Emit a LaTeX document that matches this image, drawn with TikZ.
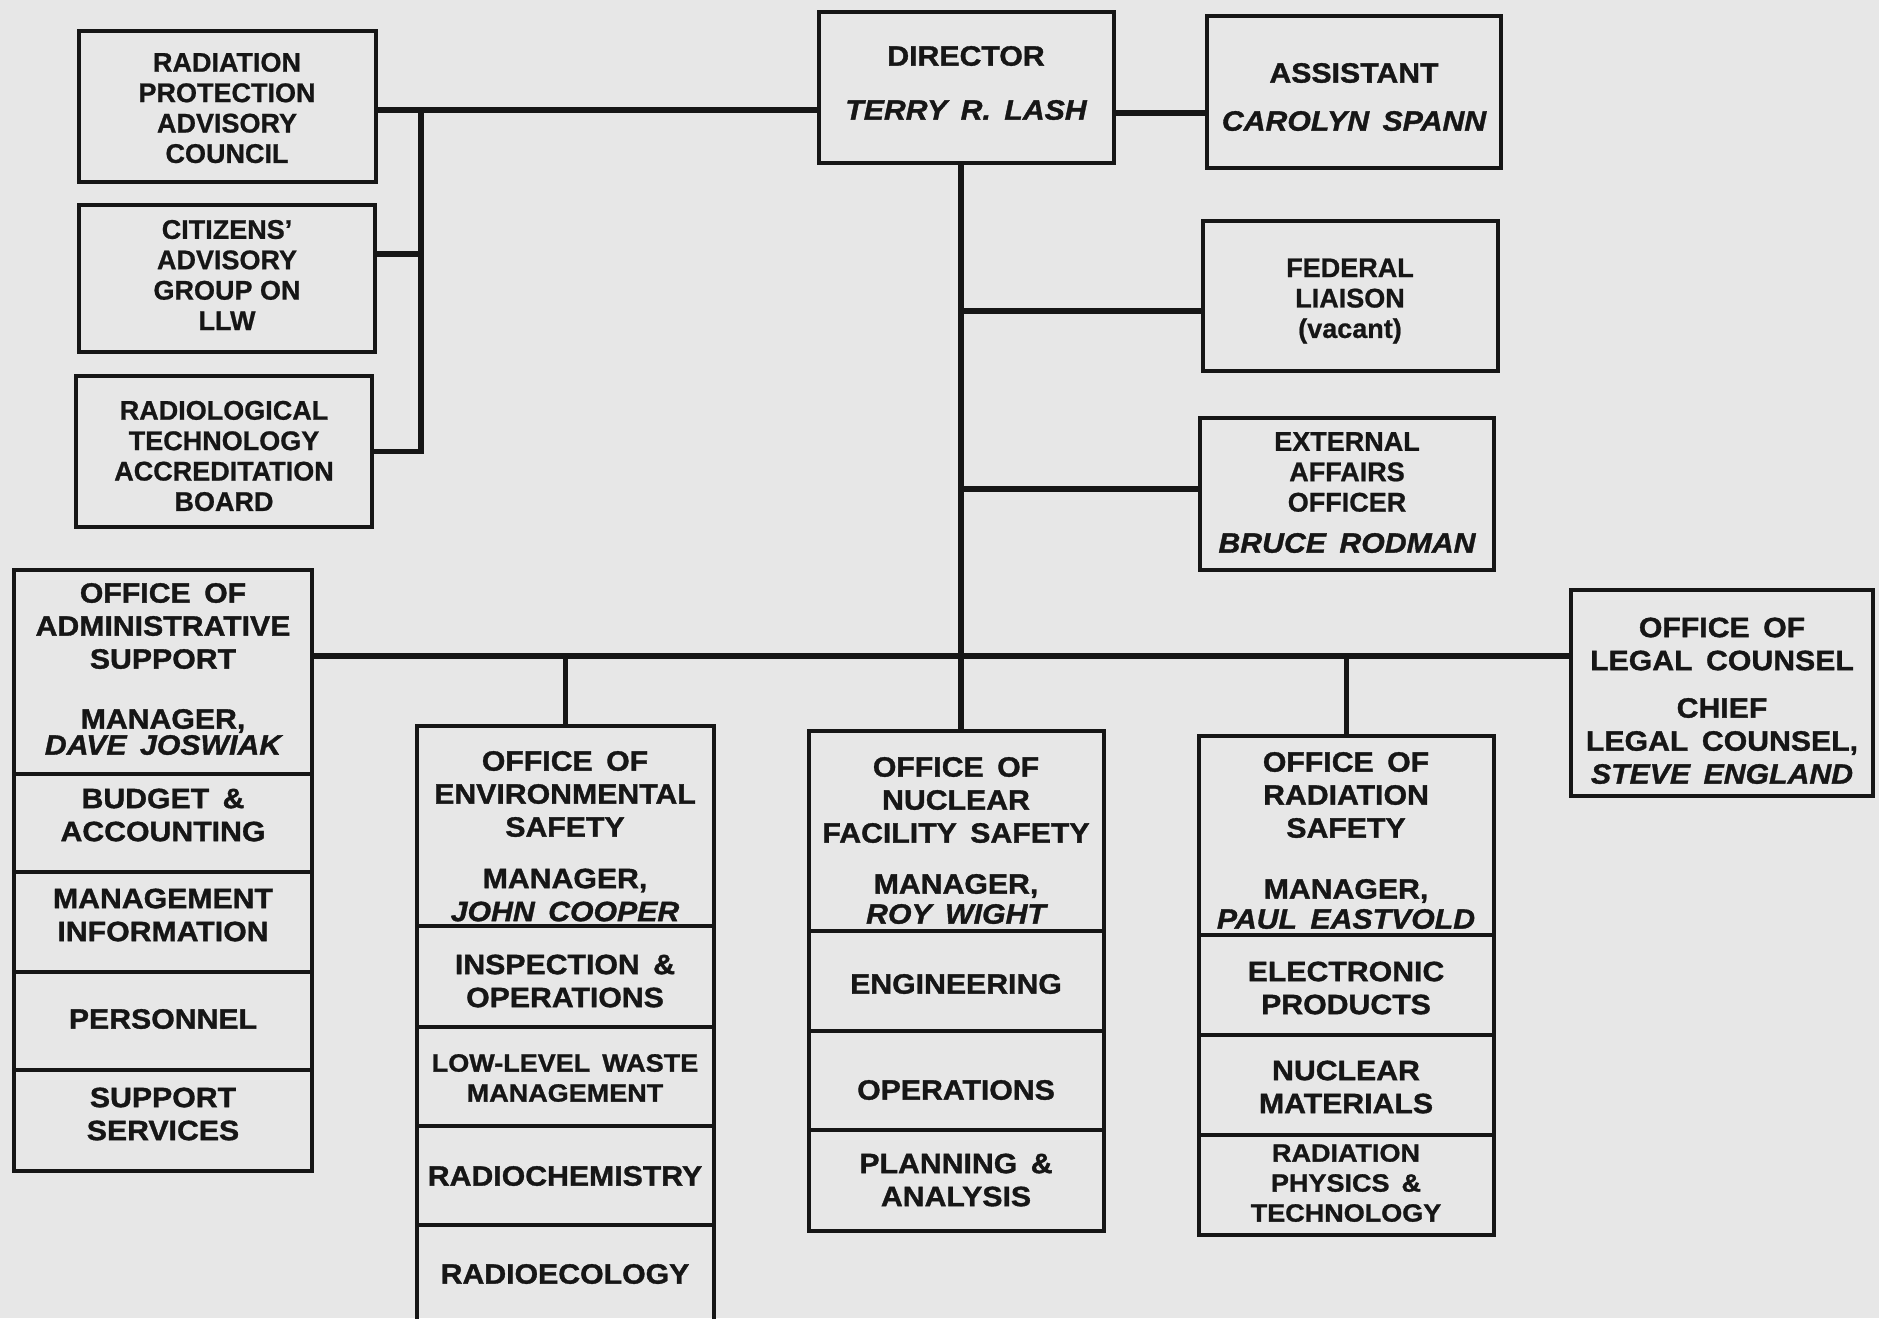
\documentclass[tikz,border=0pt]{standalone}
\usepackage{fontspec}
\setmainfont[FakeBold=0.8]{Liberation Sans}
\newfontfamily\wfont[FakeStretch=1.08,FakeBold=1.2,WordSpace=1.6]{Liberation Sans}
\usetikzlibrary{fit}
\definecolor{bg}{RGB}{231,231,231}
\definecolor{ink}{RGB}{22,22,22}
\begin{document}
\begin{tikzpicture}[x=0.5pt,y=-0.5pt,
  box/.style={draw=ink, line width=1.9pt, inner sep=0pt},
  wire/.style={draw=ink, line width=2.8pt},
  lt/.style={font=\wfont\bfseries\fontsize{14}{16.5}\selectfont, text=ink, align=center, inner sep=0pt},
  st/.style={font=\wfont\bfseries\fontsize{12.5}{15}\selectfont, text=ink, align=center, inner sep=0pt},
  ut/.style={font=\bfseries\fontsize{13.5}{15.2}\selectfont, text=ink, align=center, inner sep=0pt},
]
\fill[bg] (0,0) rectangle (1879,1318);
\useasboundingbox (0,0) rectangle (1879,1318);

% ---------- top boxes ----------
\node[box, fit={(79,31)(376,182)}] (rpac) {};
\node[ut] (rpacT) at (227,108) {RADIATION\\PROTECTION\\ADVISORY\\COUNCIL};
\node[box, fit={(79,205)(375,352)}] (cit) {};
\node[ut] (citT) at (227,275) {CITIZENS'\\ADVISORY\\GROUP ON\\LLW};
\node[box, fit={(76,376)(372,527)}] (rtab) {};
\node[ut] (rtabT) at (224,456) {RADIOLOGICAL\\TECHNOLOGY\\ACCREDITATION\\BOARD};

\node[box, fit={(819,12)(1114,163)}] (dir) {};
\node[lt] (dirT) at (966,56) {DIRECTOR};
\node[lt] (dirN) at (966,110) {\itshape TERRY R. LASH};

\node[box, fit={(1207,16)(1501,168)}] (asst) {};
\node[lt] (asstT) at (1354,73) {ASSISTANT};
\node[lt] (asstN) at (1354,121) {\itshape CAROLYN SPANN};

\node[box, fit={(1203,221)(1498,371)}] (fed) {};
\node[ut] (fedT) at (1350,301) {FEDERAL\\LIAISON\\(vacant)};

\node[box, fit={(1200,418)(1494,570)}] (ext) {};
\node[ut] (extT) at (1347,472) {EXTERNAL\\AFFAIRS\\OFFICER};
\node[lt] (extN) at (1347,543) {\itshape BRUCE RODMAN};

% ---------- administrative support ----------
\node[box, fit={(14,570)(312,774)}] (adm0) {};
\node[box, fit={(14,774)(312,872)}] (adm1) {};
\node[box, fit={(14,872)(312,972)}] (adm2) {};
\node[box, fit={(14,972)(312,1070)}] (adm3) {};
\node[box, fit={(14,1070)(312,1171)}] (adm4) {};
\node[lt] (adm0T) at (163,626) {OFFICE OF\\ADMINISTRATIVE\\SUPPORT};
\node[lt] (adm0M) at (163,732) {MANAGER,\\[-3.5pt]\itshape DAVE JOSWIAK};
\node[lt] (adm1T) at (163,815) {BUDGET \&\\ACCOUNTING};
\node[lt] (adm2T) at (163,915) {MANAGEMENT\\INFORMATION};
\node[lt] (adm3T) at (163,1019) {PERSONNEL};
\node[lt] (adm4T) at (163,1114) {SUPPORT\\SERVICES};

% ---------- environmental safety ----------
\node[box, fit={(417,726)(714,926)}] (env0) {};
\node[box, fit={(417,926)(714,1027)}] (env1) {};
\node[box, fit={(417,1027)(714,1126)}] (env2) {};
\node[box, fit={(417,1126)(714,1225)}] (env3) {};
\node[box, fit={(417,1225)(714,1330)}] (env4) {};
\node[lt] (env0T) at (565,794) {OFFICE OF\\ENVIRONMENTAL\\SAFETY};
\node[lt] (env0M) at (565,895) {MANAGER,\\\itshape JOHN COOPER};
\node[lt] (env1T) at (565,981) {INSPECTION \&\\OPERATIONS};
\node[st] (env2T) at (565,1078) {LOW-LEVEL WASTE\\MANAGEMENT};
\node[lt] (env3T) at (565,1176) {RADIOCHEMISTRY};
\node[lt] (env4T) at (565,1274) {RADIOECOLOGY};

% ---------- nuclear facility safety ----------
\node[box, fit={(809,731)(1104,931)}] (nuc0) {};
\node[box, fit={(809,931)(1104,1031)}] (nuc1) {};
\node[box, fit={(809,1031)(1104,1130)}] (nuc2) {};
\node[box, fit={(809,1130)(1104,1231)}] (nuc3) {};
\node[lt] (nuc0T) at (956,800) {OFFICE OF\\NUCLEAR\\FACILITY SAFETY};
\node[lt] (nuc0M) at (956,899) {MANAGER,\\[-1.5pt]\itshape ROY WIGHT};
\node[lt] (nuc1T) at (956,984) {ENGINEERING};
\node[lt] (nuc2T) at (956,1090) {OPERATIONS};
\node[lt] (nuc3T) at (956,1180) {PLANNING \&\\ANALYSIS};

% ---------- radiation safety ----------
\node[box, fit={(1199,736)(1494,935)}] (rad0) {};
\node[box, fit={(1199,935)(1494,1035)}] (rad1) {};
\node[box, fit={(1199,1035)(1494,1135)}] (rad2) {};
\node[box, fit={(1199,1135)(1494,1235)}] (rad3) {};
\node[lt] (rad0T) at (1346,795) {OFFICE OF\\RADIATION\\SAFETY};
\node[lt] (rad0M) at (1346,904) {MANAGER,\\[-1.5pt]\itshape PAUL EASTVOLD};
\node[lt] (rad1T) at (1346,988) {ELECTRONIC\\PRODUCTS};
\node[lt] (rad2T) at (1346,1087) {NUCLEAR\\MATERIALS};
\node[st] (rad3T) at (1346,1183) {RADIATION\\PHYSICS \&\\TECHNOLOGY};

% ---------- legal counsel ----------
\node[box, fit={(1571,590)(1873,796)}] (legal) {};
\node[lt] (legalT) at (1722,644) {OFFICE OF\\LEGAL COUNSEL};
\node[lt] (legalM) at (1722,741) {CHIEF\\LEGAL COUNSEL,\\\itshape STEVE ENGLAND};

% ---------- connectors ----------
\coordinate (jL) at (421,110);
\coordinate (jC) at (421,254);
\coordinate (jA) at (1160,113);
\coordinate (jV) at (961,656);
\coordinate (jF) at (961,311);
\coordinate (jE) at (961,489);

\draw[wire] (rpac.east |- jL) -- (dir.west |- jL);
\draw[wire] (jL) -- (jL |- rtab.east) -- (rtab.east);
\draw[wire] (jC) -- (cit.east |- jC);
\draw[wire] (dir.east |- jA) -- (asst.west |- jA);
\draw[wire] (jV |- dir.south) -- (jV |- nuc0.north);
\draw[wire] (jF) -- (fed.west |- jF);
\draw[wire] (jE) -- (ext.west |- jE);
\draw[wire] (adm0.east |- jV) -- (legal.west |- jV);
\draw[wire] (env0.north |- jV) -- (env0.north);
\draw[wire] (rad0.north |- jV) -- (rad0.north);
\end{tikzpicture}
\end{document}
